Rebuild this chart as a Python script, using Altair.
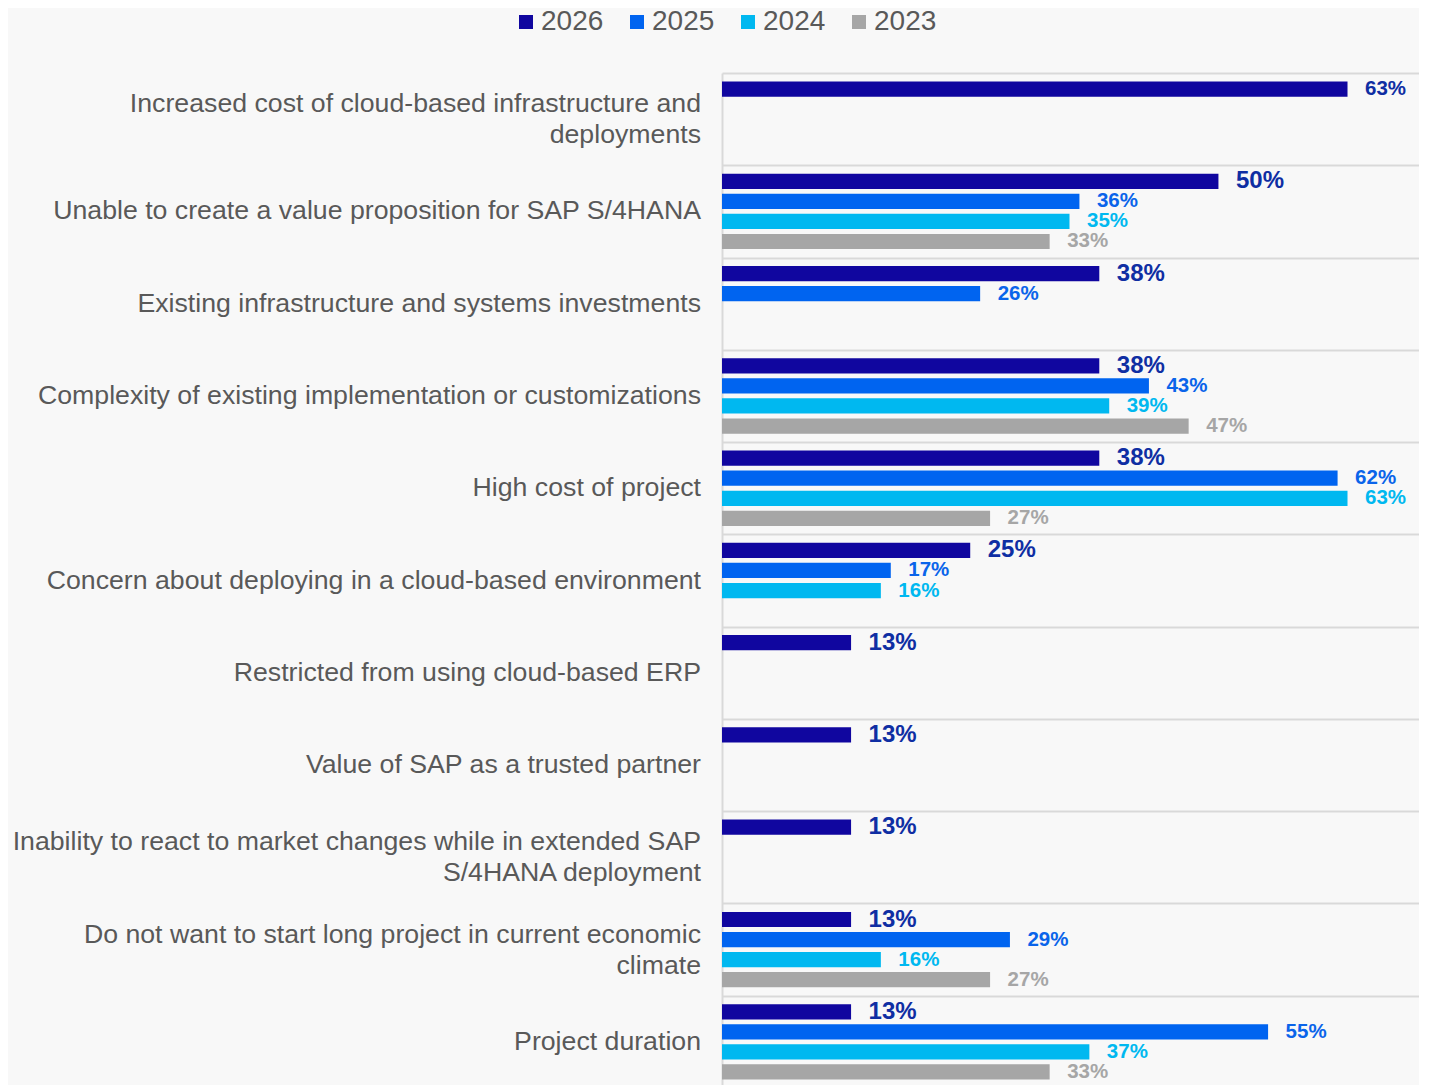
import altair as alt
import pandas as pd

categories = [
    "Increased cost of cloud-based infrastructure and|deployments",
    "Unable to create a value proposition for SAP S/4HANA",
    "Existing infrastructure and systems investments",
    "Complexity of existing implementation or customizations",
    "High cost of project",
    "Concern about deploying in a cloud-based environment",
    "Restricted from using cloud-based ERP",
    "Value of SAP as a trusted partner",
    "Inability to react to market changes while in extended SAP|S/4HANA deployment",
    "Do not want to start long project in current economic|climate",
    "Project duration",
]
years = ["2026", "2025", "2024", "2023"]
v2026 = [63, 50, 38, 38, 38, 25, 13, 13, 13, 13, 13]
v2025 = [None, 36, 26, 43, 62, 17, None, None, None, 29, 55]
v2024 = [None, 35, None, 39, 63, 16, None, None, None, 16, 37]
v2023 = [None, 33, None, 47, 27, None, None, None, None, 27, 33]

bar_colors = ["#10069f", "#0064f0", "#00b8f0", "#a6a6a6"]
label_colors = ["#0f2ea3", "#0a64ea", "#00b8f0", "#a6a6a6"]
size_2026 = [20.5, 24, 24, 24, 24, 24, 24, 24, 24, 24, 24]
size_other = 20.5

FONT = "Liberation Sans"

rows = []
series = [v2026, v2025, v2024, v2023]
for yi, (yr, vals) in enumerate(zip(years, series)):
    for ci, (cat, v) in enumerate(zip(categories, vals)):
        if v is None:
            continue
        rows.append({
            "cat": cat,
            "year": yr,
            "value": v,
            "label": f"{v}%",
            "tcolor": label_colors[yi],
            "fs": size_2026[ci] if yi == 0 else size_other,
        })
df = pd.DataFrame(rows)
cat_df = pd.DataFrame({"cat": categories})

x = alt.X("value:Q", scale=alt.Scale(domain=[0, 70.2], nice=False, zero=True), axis=None)
yscale = alt.Scale(domain=categories, paddingInner=0, paddingOuter=0)
y = alt.Y(
    "cat:N",
    sort=categories,
    scale=yscale,
    axis=alt.Axis(
        title=None,
        labels=False,
        ticks=False,
        tickBand="extent",
        grid=True,
        gridColor="#d9d9d9",
        gridWidth=2,
        domainColor="#d9d9d9",
        domainWidth=2,
    ),
)
yoff = alt.YOffset(
    "year:N",
    sort=years,
    scale=alt.Scale(domain=years, paddingInner=0.24, paddingOuter=0.42),
)

base = alt.Chart(df)

bars = base.mark_bar().encode(
    x=x,
    y=y,
    yOffset=yoff,
    color=alt.Color(
        "year:N",
        sort=years,
        scale=alt.Scale(domain=years, range=bar_colors),
        legend=alt.Legend(
            title=None,
            orient="none",
            legendX=-210,
            legendY=-65,
            direction="horizontal",
            symbolType="square",
            symbolSize=196,
            symbolStrokeWidth=0,
            labelFont=FONT,
            labelFontSize=28,
            labelColor="#595959",
            labelOffset=1,
            columnPadding=19,
            padding=0,
        ),
    ),
)

labels = base.mark_text(
    align="left", baseline="middle", dx=17.5, fontWeight="bold", font=FONT
).encode(
    x=x,
    y=y,
    yOffset=yoff,
    text="label:N",
    color=alt.Color("tcolor:N", scale=None),
    size=alt.Size("fs:Q", scale=None),
)

cat_base = (
    alt.Chart(cat_df)
    .transform_calculate(lines="split(datum.cat, '|')", n="length(split(datum.cat, '|'))")
)
cat_text_args = dict(
    align="right", baseline="middle", font=FONT, fontSize=26.7,
    color="#595959", lineHeight=31,
)
cat_single = cat_base.transform_filter("datum.n == 1").mark_text(**cat_text_args).encode(
    x=alt.value(-21),
    y=alt.Y("cat:N", sort=categories, scale=yscale),
    text=alt.Text("lines:N"),
)
cat_multi = cat_base.transform_filter("datum.n > 1").mark_text(dy=-15, **cat_text_args).encode(
    x=alt.value(-21),
    y=alt.Y("cat:N", sort=categories, scale=yscale),
    text=alt.Text("lines:N"),
)

chart = (
    alt.layer(bars, labels, cat_single, cat_multi)
    .properties(
        width=697,
        height=1015,
        autosize=alt.AutoSizeParams(type="none"),
        padding={"left": 714, "top": 65, "right": 0, "bottom": 0},
        background="#f8f8f8",
    )
    .configure_view(stroke="transparent")
)

chart.save("out.html", embed_options={"renderer": "svg", "actions": False})
